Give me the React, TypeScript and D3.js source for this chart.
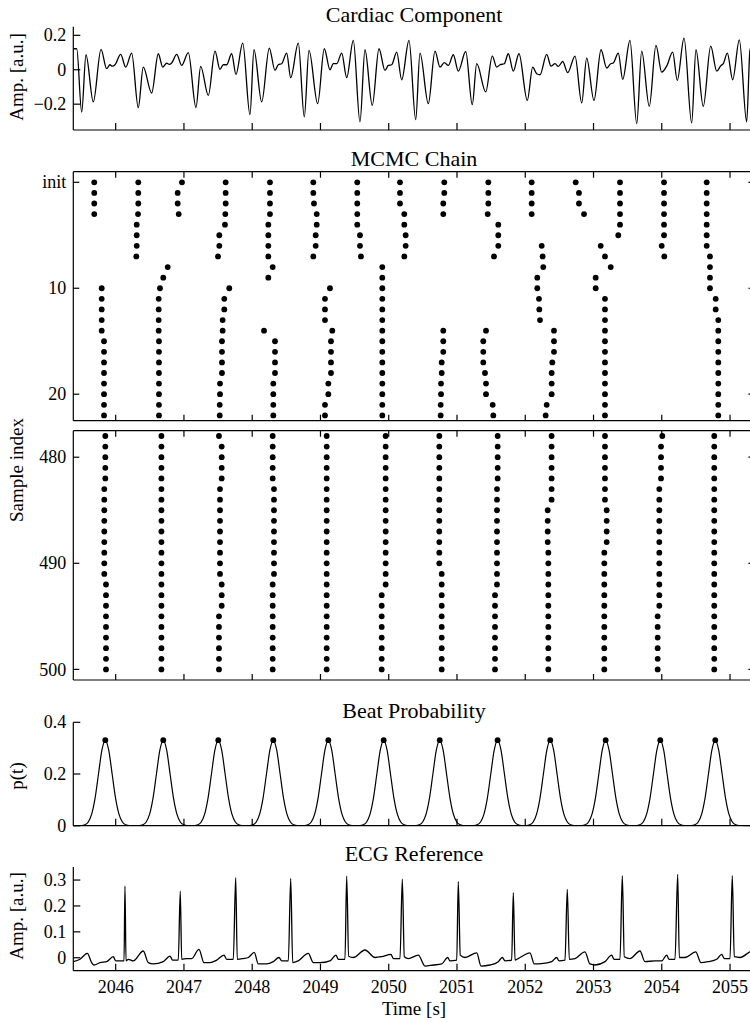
import React from 'react';
import * as d3 from 'd3';

// ---------------- DATA ----------------
const xDomain = [2045.379, 2055.357];
const xTickValues = [2046, 2047, 2048, 2049, 2050, 2051, 2052, 2053, 2054, 2055];
const xTickLabels = ['2046', '2047', '2048', '2049', '2050', '2051', '2052', '2053', '2054', '2055'];

// Cardiac component (time [s], amplitude)
const cardiacT = [
  2045.379, 2045.429, 2045.502, 2045.565, 2045.672, 2045.785, 2045.868, 2045.916, 2045.950, 2045.990,
  2046.073, 2046.147, 2046.234, 2046.331, 2046.404, 2046.527, 2046.624, 2046.689, 2046.747, 2046.785,
  2046.820, 2046.894, 2046.967, 2047.064, 2047.176, 2047.245, 2047.357, 2047.455, 2047.528, 2047.576,
  2047.626, 2047.699, 2047.762, 2047.861, 2047.967, 2048.026, 2048.139, 2048.250, 2048.334, 2048.382,
  2048.432, 2048.505, 2048.564, 2048.675,
  2048.763, 2048.832, 2048.959, 2049.056, 2049.139, 2049.188, 2049.238, 2049.311, 2049.384, 2049.481,
  2049.579, 2049.652, 2049.759, 2049.857, 2049.945, 2049.994, 2050.043, 2050.117, 2050.190, 2050.297,
  2050.395, 2050.458, 2050.580, 2050.678, 2050.751, 2050.814, 2050.873, 2050.946, 2051.019, 2051.128,
  2051.224, 2051.289, 2051.421, 2051.517, 2051.582, 2051.630, 2051.693, 2051.752, 2051.825, 2051.908,
  2052.030, 2052.109, 2052.168, 2052.216, 2052.314, 2052.377, 2052.436, 2052.484, 2052.549, 2052.622,
  2052.729, 2052.827, 2052.900, 2053.007, 2053.110, 2053.193, 2053.252, 2053.290, 2053.363, 2053.428,
  2053.534, 2053.633, 2053.706, 2053.817, 2053.915, 2053.999, 2054.072, 2054.160, 2054.227, 2054.326,
  2054.438, 2054.501, 2054.608, 2054.717, 2054.805, 2054.868, 2054.901, 2054.960, 2055.039, 2055.136,
  2055.244, 2055.292, 2055.357,
];
const cardiacV = [
  0.122, 0.122, -0.246, 0.087, -0.187, 0.118, 0.006, 0.029, 0.021, 0.029,
  0.089, 0.015, 0.097, -0.220, 0.015, -0.135, 0.093, 0.015, 0.039, 0.031,
  0.039, 0.089, 0.025, 0.099, -0.220, 0.019, -0.149, 0.108, 0.002, 0.029,
  0.029, 0.093, -0.027, 0.155, -0.261, 0.116, -0.187, 0.126, -0.004, 0.029,
  0.035, 0.097, -0.046, 0.155,
  -0.274, 0.112, -0.197, 0.122, 0.000, 0.035, 0.035, 0.097, -0.046, 0.170,
  -0.303, 0.116, -0.207, 0.122, -0.004, 0.025, 0.029, 0.102, -0.058, 0.170,
  -0.290, 0.097, -0.197, 0.108, 0.015, 0.041, 0.025, 0.087, -0.008, 0.106,
  -0.203, 0.035, -0.129, 0.079, 0.015, 0.029, 0.035, 0.093, -0.008, 0.093,
  -0.178, 0.015, -0.023, -0.029, 0.089, 0.021, 0.035, 0.019, 0.048, -0.017,
  0.079, -0.193, 0.068, -0.178, 0.116, 0.010, 0.035, 0.039, 0.097, -0.056,
  0.170, -0.313, 0.108, -0.213, 0.141, -0.014, 0.021, 0.102, -0.062, 0.184,
  -0.309, 0.116, -0.213, 0.137, -0.008, 0.025, 0.035, 0.097, -0.058, 0.174,
  -0.303, 0.112, 0.170,
];
const cardiacTicks = [-0.2, 0, 0.2];
const cardiacTickLabels = ['\u22120.2', '0', '0.2'];

// MCMC chain: each track = first sample index + beat time per consecutive sample
const earlyTracks = [
  { row: 0, t: [2045.686, 2045.686, 2045.686, 2045.686] },
  { row: 10, t: [2045.795, 2045.795, 2045.795, 2045.795, 2045.795, 2045.829, 2045.829, 2045.829, 2045.829, 2045.829, 2045.829, 2045.829, 2045.829] },
  { row: 0, t: [2046.331, 2046.331, 2046.331, 2046.327, 2046.308, 2046.308, 2046.308, 2046.302] },
  { row: 8, t: [2046.762, 2046.697, 2046.649, 2046.630, 2046.630, 2046.630, 2046.630, 2046.634, 2046.634, 2046.634, 2046.634, 2046.634, 2046.634, 2046.634, 2046.634] },
  { row: 0, t: [2046.971, 2046.908, 2046.908, 2046.923] },
  { row: 0, t: [2047.611, 2047.611, 2047.611, 2047.606, 2047.601, 2047.518, 2047.518, 2047.499] },
  { row: 10, t: [2047.664, 2047.591, 2047.591, 2047.567, 2047.567, 2047.557, 2047.557, 2047.557, 2047.557, 2047.528, 2047.528, 2047.524, 2047.524] },
  { row: 0, t: [2048.260, 2048.260, 2048.260, 2048.260, 2048.236, 2048.236, 2048.236, 2048.236, 2048.300, 2048.236] },
  { row: 14, t: [2048.173, 2048.334, 2048.334, 2048.334, 2048.334, 2048.309, 2048.309, 2048.309, 2048.309] },
  { row: 0, t: [2048.895, 2048.895, 2048.905, 2048.945, 2048.945, 2048.930, 2048.930, 2048.895] },
  { row: 10, t: [2049.139, 2049.066, 2049.066, 2049.066, 2049.173, 2049.154, 2049.154, 2049.154, 2049.154, 2049.115, 2049.115, 2049.066, 2049.066] },
  { row: 0, t: [2049.539, 2049.539, 2049.539, 2049.539, 2049.539, 2049.579, 2049.579, 2049.593] },
  { row: 8, t: [2049.906, 2049.906, 2049.906, 2049.906, 2049.906, 2049.906, 2049.906, 2049.906, 2049.906, 2049.906, 2049.906, 2049.906, 2049.906, 2049.906, 2049.906] },
  { row: 0, t: [2050.165, 2050.165, 2050.165, 2050.228, 2050.228, 2050.248, 2050.248, 2050.228] },
  { row: 0, t: [2050.814, 2050.814, 2050.799, 2050.799] },
  { row: 14, t: [2050.799, 2050.799, 2050.799, 2050.776, 2050.776, 2050.766, 2050.766, 2050.761, 2050.761] },
  { row: 0, t: [2051.459, 2051.459, 2051.459, 2051.450, 2051.605, 2051.605, 2051.605, 2051.542] },
  { row: 14, t: [2051.425, 2051.385, 2051.385, 2051.385, 2051.410, 2051.425, 2051.425, 2051.523, 2051.532] },
  { row: 0, t: [2052.094, 2052.094, 2052.094, 2052.094] },
  { row: 6, t: [2052.241, 2052.255, 2052.264, 2052.176, 2052.176, 2052.201, 2052.206, 2052.216] },
  { row: 14, t: [2052.421, 2052.421, 2052.421, 2052.396, 2052.387, 2052.387, 2052.387, 2052.314, 2052.299] },
  { row: 0, t: [2052.739, 2052.787, 2052.787, 2052.861] },
  { row: 6, t: [2053.105, 2053.168, 2053.252, 2053.032, 2053.032] },
  { row: 11, t: [2053.168, 2053.168, 2053.168, 2053.168, 2053.168, 2053.168, 2053.168, 2053.168, 2053.168, 2053.168, 2053.168, 2053.168] },
  { row: 0, t: [2053.388, 2053.388, 2053.388, 2053.388, 2053.388, 2053.363] },
  { row: 0, t: [2054.033, 2054.033, 2054.033, 2054.033, 2054.033, 2054.033, 2053.999, 2054.037] },
  { row: 0, t: [2054.658, 2054.658, 2054.658, 2054.658, 2054.658, 2054.658, 2054.658, 2054.706, 2054.706, 2054.706, 2054.706, 2054.790, 2054.790, 2054.828, 2054.828, 2054.828, 2054.828, 2054.828, 2054.828, 2054.828, 2054.828, 2054.828, 2054.828] },
];

const lateTracks = [
  { row: 478, t: [2045.848, 2045.848, 2045.848, 2045.848, 2045.848, 2045.833, 2045.833, 2045.833, 2045.833, 2045.833, 2045.833, 2045.833, 2045.833, 2045.833, 2045.858, 2045.858, 2045.858, 2045.858, 2045.858, 2045.858, 2045.858, 2045.858, 2045.858] },
  { row: 478, t: [2046.670, 2046.670, 2046.670, 2046.670, 2046.670, 2046.670, 2046.670, 2046.670, 2046.670, 2046.670, 2046.670, 2046.670, 2046.670, 2046.670, 2046.670, 2046.670, 2046.670, 2046.670, 2046.670, 2046.670, 2046.670, 2046.670, 2046.670] },
  { row: 478, t: [2047.513, 2047.553, 2047.553, 2047.553, 2047.553, 2047.528, 2047.528, 2047.528, 2047.528, 2047.528, 2047.528, 2047.528, 2047.528, 2047.528, 2047.553, 2047.553, 2047.553, 2047.513, 2047.513, 2047.513, 2047.513, 2047.513, 2047.513] },
  { row: 478, t: [2048.300, 2048.300, 2048.300, 2048.300, 2048.300, 2048.319, 2048.319, 2048.319, 2048.319, 2048.319, 2048.319, 2048.319, 2048.319, 2048.319, 2048.300, 2048.300, 2048.300, 2048.300, 2048.300, 2048.300, 2048.300, 2048.300, 2048.300] },
  { row: 478, t: [2049.091, 2049.091, 2049.091, 2049.091, 2049.091, 2049.091, 2049.091, 2049.091, 2049.091, 2049.091, 2049.091, 2049.091, 2049.091, 2049.091, 2049.091, 2049.091, 2049.091, 2049.091, 2049.091, 2049.091, 2049.091, 2049.091, 2049.091] },
  { row: 478, t: [2049.955, 2049.955, 2049.955, 2049.955, 2049.955, 2049.955, 2049.955, 2049.955, 2049.955, 2049.955, 2049.955, 2049.955, 2049.955, 2049.955, 2049.955, 2049.897, 2049.897, 2049.897, 2049.897, 2049.897, 2049.897, 2049.897, 2049.897] },
  { row: 478, t: [2050.741, 2050.741, 2050.741, 2050.741, 2050.741, 2050.741, 2050.741, 2050.741, 2050.741, 2050.741, 2050.741, 2050.741, 2050.741, 2050.776, 2050.776, 2050.776, 2050.776, 2050.776, 2050.776, 2050.776, 2050.776, 2050.776, 2050.776] },
  { row: 478, t: [2051.596, 2051.596, 2051.596, 2051.596, 2051.596, 2051.586, 2051.586, 2051.586, 2051.586, 2051.586, 2051.586, 2051.586, 2051.586, 2051.586, 2051.586, 2051.557, 2051.557, 2051.557, 2051.557, 2051.557, 2051.557, 2051.557, 2051.557] },
  { row: 478, t: [2052.386, 2052.386, 2052.386, 2052.386, 2052.386, 2052.386, 2052.386, 2052.329, 2052.329, 2052.329, 2052.329, 2052.338, 2052.338, 2052.338, 2052.338, 2052.338, 2052.338, 2052.338, 2052.338, 2052.338, 2052.338, 2052.338, 2052.338] },
  { row: 478, t: [2053.168, 2053.168, 2053.168, 2053.168, 2053.168, 2053.168, 2053.168, 2053.193, 2053.193, 2053.193, 2053.193, 2053.158, 2053.158, 2053.158, 2053.158, 2053.158, 2053.158, 2053.158, 2053.158, 2053.158, 2053.158, 2053.158, 2053.158] },
  { row: 478, t: [2054.008, 2053.989, 2053.989, 2053.989, 2053.989, 2053.964, 2053.964, 2053.964, 2053.964, 2053.964, 2053.964, 2053.964, 2053.964, 2053.964, 2053.964, 2053.964, 2053.964, 2053.940, 2053.940, 2053.940, 2053.940, 2053.940, 2053.940] },
  { row: 478, t: [2054.769, 2054.769, 2054.769, 2054.769, 2054.769, 2054.769, 2054.769, 2054.769, 2054.769, 2054.769, 2054.769, 2054.769, 2054.769, 2054.769, 2054.769, 2054.769, 2054.769, 2054.769, 2054.769, 2054.769, 2054.769, 2054.769, 2054.769] },
];
const mcmcTopTicks = [0, 10, 20];
const mcmcTopLabels = ['init', '10', '20'];
const mcmcBottomTicks = [480, 490, 500];
const mcmcBottomLabels = ['480', '490', '500'];

// Beat probability
const beatTimes = [2045.848, 2046.697, 2047.503, 2048.309, 2049.115, 2049.926, 2050.747, 2051.595, 2052.366, 2053.178, 2053.978, 2054.784];
const beatPeak = 0.331;
const bumpOffsets = [-0.35, -0.3, -0.25, -0.2, -0.15, -0.1, -0.05, 0, 0.05, 0.1, 0.15, 0.2, 0.25, 0.3, 0.35];
const bumpValues = [0.0007, 0.0037, 0.0145, 0.0448, 0.107, 0.2, 0.292, 0.331, 0.292, 0.2, 0.107, 0.0448, 0.0145, 0.0037, 0.0007];
const beatTicks = [0, 0.2, 0.4];
const beatTickLabels = ['0', '0.2', '0.4'];

// ECG reference
const ecgT = [
  2045.379, 2045.477, 2045.584, 2045.648, 2045.682, 2045.770, 2045.868, 2045.965, 2046.000, 2046.088,
  2046.122, 2046.136, 2046.151, 2046.185, 2046.258, 2046.404, 2046.478, 2046.551, 2046.697, 2046.795,
  2046.835, 2046.917, 2046.946, 2046.967, 2047.040, 2047.113, 2047.220, 2047.294, 2047.381, 2047.480,
  2047.587, 2047.626, 2047.723, 2047.758, 2047.781, 2047.869, 2047.943, 2048.030, 2048.089, 2048.212,
  2048.309, 2048.392, 2048.432, 2048.529, 2048.564, 2048.593, 2048.675, 2048.822, 2048.895, 2048.993,
  2049.139, 2049.227, 2049.261, 2049.359, 2049.384, 2049.413, 2049.481, 2049.652,
  2049.799, 2049.897, 2050.033, 2050.067, 2050.165, 2050.199, 2050.228, 2050.287, 2050.433, 2050.531,
  2050.653, 2050.776, 2050.864, 2050.897, 2050.996, 2051.019, 2051.048, 2051.117, 2051.289, 2051.352,
  2051.483, 2051.605, 2051.664, 2051.703, 2051.801, 2051.825, 2051.850, 2051.923, 2052.069, 2052.132,
  2052.264, 2052.387, 2052.461, 2052.494, 2052.582, 2052.616, 2052.645, 2052.729, 2052.875, 2052.948,
  2053.022, 2053.168, 2053.266, 2053.300, 2053.388, 2053.422, 2053.451, 2053.534, 2053.681, 2053.754,
  2053.901, 2053.999, 2054.072, 2054.106, 2054.194, 2054.233, 2054.257, 2054.340, 2054.497, 2054.575,
  2054.682, 2054.805, 2054.878, 2054.916, 2055.000, 2055.033, 2055.062, 2055.146, 2055.292, 2055.357,
];
const ecgV = [
  -0.015, -0.006, 0.017, -0.019, -0.028, -0.019, -0.015, 0.004, -0.012, -0.012,
  -0.012, 0.277, -0.012, -0.006, -0.012, 0.026, -0.019, -0.024, -0.015, 0.006,
  -0.009, -0.009, 0.257, -0.006, -0.003, -0.003, 0.032, -0.019, -0.019, -0.009,
  0.010, -0.006, -0.006, 0.309, -0.006, -0.003, 0.001, 0.021, -0.024, -0.024,
  -0.015, 0.001, -0.012, -0.012, 0.306, -0.019, -0.012, 0.017, -0.019, -0.019,
  -0.012, 0.010, -0.006, -0.006, 0.315, 0.006, 0.001, 0.030,
  0.001, 0.004, 0.013, -0.003, -0.003, 0.303, 0.004, -0.003, 0.010, -0.032,
  -0.028, -0.024, 0.001, -0.012, -0.009, 0.294, 0.010, 0.001, 0.019, -0.032,
  -0.028, -0.015, 0.001, -0.012, -0.009, 0.251, -0.009, 0.001, 0.019, -0.024,
  -0.022, -0.015, 0.001, -0.012, -0.009, 0.264, -0.006, -0.003, 0.023, -0.024,
  -0.028, -0.015, 0.010, -0.006, -0.006, 0.317, 0.004, -0.003, 0.026, -0.015,
  -0.012, -0.012, 0.010, -0.006, -0.006, 0.322, 0.001, 0.001, 0.023, -0.019,
  -0.015, -0.006, 0.013, -0.003, -0.003, 0.317, 0.004, 0.001, 0.023, 0.030,
];
const ecgTicks = [0, 0.1, 0.2, 0.3];
const ecgTickLabels = ['0', '0.1', '0.2', '0.3'];

// ---------------- LAYOUT ----------------
const FONT = '"Liberation Serif", "Times New Roman", Times, serif';
const LEFT = 73.3;
const RIGHT = 754.4;
const MID = 414;
const TICK_FS = 18;
const TITLE_FS = 22;
const LABEL_FS = 19;

const x = d3.scaleLinear().domain(xDomain).range([LEFT, RIGHT]);

type PanelSpec = {
  id: string;
  top: number;
  bottom: number;
  domain: [number, number];
  invert?: boolean;
  box?: boolean;
  tickLen: number;
  yTicks: number[];
  yLabels: string[];
};

const panels: Record<string, PanelSpec> = {
  cardiac: { id: 'cardiac', top: 26.7, bottom: 130, domain: [-0.35, 0.25], tickLen: 7, yTicks: cardiacTicks, yLabels: cardiacTickLabels },
  mcmcTop: { id: 'mcmcTop', top: 171.7, bottom: 420.7, domain: [-1, 22.5], invert: true, box: true, tickLen: 6, yTicks: mcmcTopTicks, yLabels: mcmcTopLabels },
  mcmcBot: { id: 'mcmcBot', top: 430.7, bottom: 680, domain: [477.5, 501], invert: true, box: true, tickLen: 6, yTicks: mcmcBottomTicks, yLabels: mcmcBottomLabels },
  beat: { id: 'beat', top: 722.3, bottom: 825.7, domain: [0, 0.4], tickLen: 7, yTicks: beatTicks, yLabels: beatTickLabels },
  ecg: { id: 'ecg', top: 867.1, bottom: 970.7, domain: [-0.05, 0.35], tickLen: 7, yTicks: ecgTicks, yLabels: ecgTickLabels },
};

function yScale(p: PanelSpec) {
  return d3
    .scaleLinear()
    .domain(p.domain)
    .range(p.invert ? [p.top, p.bottom] : [p.bottom, p.top]);
}

function Axes({ p, showXLabels }: { p: PanelSpec; showXLabels?: boolean }) {
  const y = yScale(p);
  const tl = p.tickLen;
  return (
    <g stroke="#000" strokeWidth={1.2} fill="none">
      <line x1={LEFT} x2={LEFT} y1={p.top} y2={p.bottom} />
      <line x1={LEFT} x2={RIGHT} y1={p.bottom} y2={p.bottom} />
      {p.box && <line x1={LEFT} x2={RIGHT} y1={p.top} y2={p.top} />}
      {p.box && <line x1={RIGHT} x2={RIGHT} y1={p.top} y2={p.bottom} />}
      {xTickValues.map((t) => (
        <g key={'xt' + t}>
          <line x1={x(t)} x2={x(t)} y1={p.bottom} y2={p.bottom - tl} />
          {p.box && <line x1={x(t)} x2={x(t)} y1={p.top} y2={p.top + tl} />}
        </g>
      ))}
      {p.yTicks.map((v, i) => (
        <g key={'yt' + v}>
          <line x1={LEFT} x2={LEFT + tl} y1={y(v)} y2={y(v)} />
          {p.box && <line x1={RIGHT - tl} x2={RIGHT} y1={y(v)} y2={y(v)} />}
          <text
            x={LEFT - 7}
            y={y(v)}
            dy="0.34em"
            textAnchor="end"
            stroke="none"
            fill="#000"
            fontFamily={FONT}
            fontSize={TICK_FS}
          >
            {p.yLabels[i]}
          </text>
        </g>
      ))}
      {showXLabels &&
        xTickValues.map((t, i) => (
          <text
            key={'xl' + t}
            x={x(t)}
            y={p.bottom + 22}
            textAnchor="middle"
            stroke="none"
            fill="#000"
            fontFamily={FONT}
            fontSize={TICK_FS}
          >
            {xTickLabels[i]}
          </text>
        ))}
    </g>
  );
}

function ClipDef({ p }: { p: PanelSpec }) {
  return (
    <clipPath id={'clip-' + p.id}>
      <rect x={LEFT} y={p.top - 4} width={RIGHT - LEFT} height={p.bottom - p.top + 8} />
    </clipPath>
  );
}

function Title({ text, y }: { text: string; y: number }) {
  return (
    <text x={MID} y={y} textAnchor="middle" fontFamily={FONT} fontSize={TITLE_FS} fill="#000">
      {text}
    </text>
  );
}

function YLabel({ text, cy }: { text: string; cy: number }) {
  return (
    <text
      transform={`translate(${23},${cy}) rotate(-90)`}
      textAnchor="middle"
      fontFamily={FONT}
      fontSize={LABEL_FS}
      fill="#000"
    >
      {text}
    </text>
  );
}

export default function App() {
  const pc = panels.cardiac;
  const yc = yScale(pc);
  const cardiacPath = d3
    .line<number>()
    .x((_, i) => x(cardiacT[i]))
    .y((v) => yc(v))
    .curve(d3.curveMonotoneX)(cardiacV) as string;

  const pt = panels.mcmcTop;
  const ytop = yScale(pt);
  const pb = panels.mcmcBot;
  const ybot = yScale(pb);

  const pbeat = panels.beat;
  const yb = yScale(pbeat);
  const beatPts: [number, number][] = [[xDomain[0], 0]];
  beatTimes.forEach((bt) => {
    bumpOffsets.forEach((o, i) => beatPts.push([bt + o, bumpValues[i]]));
  });
  beatPts.push([xDomain[1], 0]);
  const beatPath = d3
    .line<[number, number]>()
    .x((d) => x(d[0]))
    .y((d) => yb(d[1]))
    .curve(d3.curveMonotoneX)(beatPts) as string;

  const pe = panels.ecg;
  const ye = yScale(pe);
  const ecgPath = d3
    .line<number>()
    .x((_, i) => x(ecgT[i]))
    .y((v) => ye(v))
    .curve(d3.curveMonotoneX)(ecgV) as string;

  const dotR = 2.9;

  return (
    <svg
      width={750}
      height={1022}
      viewBox="0 0 750 1022"
      style={{ position: 'absolute', left: 0, top: 0, background: '#fff' }}
    >
      <defs>
        {Object.values(panels).map((p) => (
          <ClipDef key={p.id} p={p} />
        ))}
      </defs>
      <rect x={0} y={0} width={750} height={1022} fill="#fff" />

      {/* Cardiac component */}
      <Title text="Cardiac Component" y={22} />
      <path d={cardiacPath} fill="none" stroke="#000" strokeWidth={1.3} clipPath="url(#clip-cardiac)" />
      <Axes p={pc} />
      <YLabel text="Amp. [a.u.]" cy={77} />

      {/* MCMC chain */}
      <Title text="MCMC Chain" y={166} />
      <g clipPath="url(#clip-mcmcTop)">
        {earlyTracks.map((tr, k) =>
          tr.t.map((t, j) => <circle key={`e${k}-${j}`} cx={x(t)} cy={ytop(tr.row + j)} r={dotR} fill="#000" />)
        )}
      </g>
      <Axes p={pt} />
      <g clipPath="url(#clip-mcmcBot)">
        {lateTracks.map((tr, k) =>
          tr.t.map((t, j) => <circle key={`l${k}-${j}`} cx={x(t)} cy={ybot(tr.row + j)} r={dotR} fill="#000" />)
        )}
      </g>
      <Axes p={pb} />
      <YLabel text="Sample index" cy={470} />

      {/* Beat probability */}
      <Title text="Beat Probability" y={718} />
      <path d={beatPath} fill="none" stroke="#000" strokeWidth={1.2} clipPath="url(#clip-beat)" />
      {beatTimes.map((bt) => (
        <circle key={'bp' + bt} cx={x(bt)} cy={yb(beatPeak)} r={dotR} fill="#000" />
      ))}
      <Axes p={pbeat} />
      <YLabel text="p(t)" cy={776} />

      {/* ECG reference */}
      <Title text="ECG Reference" y={861} />
      <path d={ecgPath} fill="none" stroke="#000" strokeWidth={1.3} clipPath="url(#clip-ecg)" />
      <Axes p={pe} showXLabels />
      <YLabel text="Amp. [a.u.]" cy={916} />
      <text x={MID} y={1015} textAnchor="middle" fontFamily={FONT} fontSize={LABEL_FS} fill="#000">
        Time [s]
      </text>
    </svg>
  );
}
